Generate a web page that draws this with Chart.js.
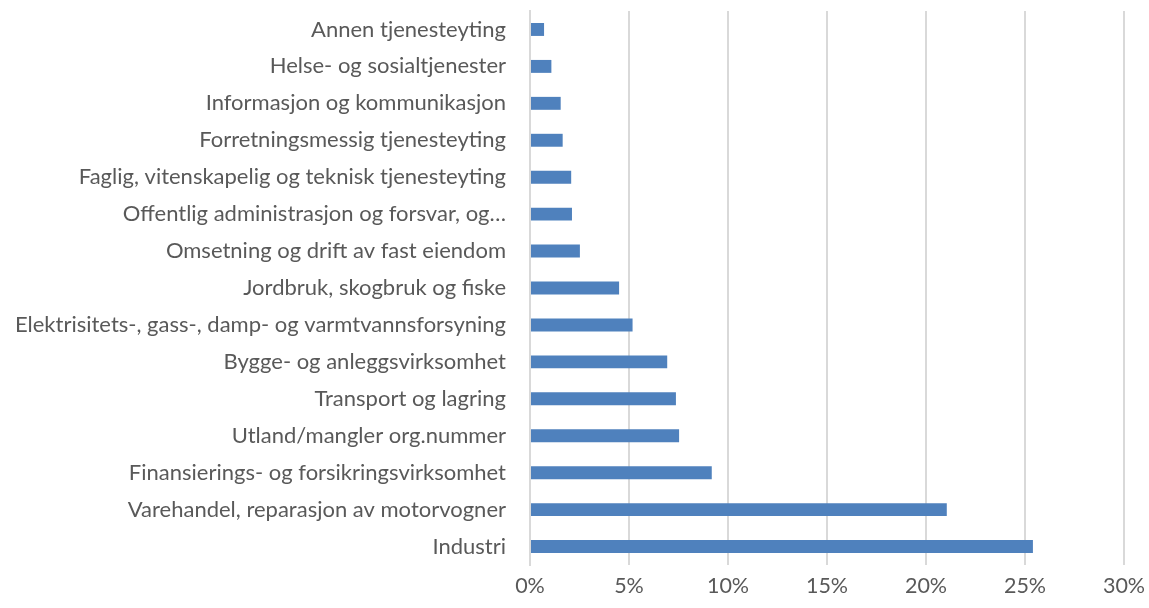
<!DOCTYPE html>
<html>
<head>
<meta charset="utf-8">
<script src="https://cdn.jsdelivr.net/npm/chart.js@4"></script>
<style>
  html, body { margin: 0; padding: 0; background: #fff; }
  #wrap { width: 1149px; height: 608px; }
</style>
</head>
<body>
<div id="wrap"><canvas id="chart"></canvas></div>
<script>
// Næringer, fra øverst til nederst
const naeringer = [
  "Annen tjenesteyting",
  "Helse- og sosialtjenester",
  "Informasjon og kommunikasjon",
  "Forretningsmessig tjenesteyting",
  "Faglig, vitenskapelig og teknisk tjenesteyting",
  "Offentlig administrasjon og forsvar, og…",
  "Omsetning og drift av fast eiendom",
  "Jordbruk, skogbruk og fiske",
  "Elektrisitets-, gass-, damp- og varmtvannsforsyning",
  "Bygge- og anleggsvirksomhet",
  "Transport og lagring",
  "Utland/mangler org.nummer",
  "Finansierings- og forsikringsvirksomhet",
  "Varehandel, reparasjon av motorvogner",
  "Industri"
];

// Andel i prosent
const andel = [0.71, 1.08, 1.55, 1.65, 2.08, 2.12, 2.52, 4.5, 5.18, 6.93, 7.37, 7.53, 9.18, 21.05, 25.4];

const xTicks = [0, 5, 10, 15, 20, 25, 30];

const font = "Lato, 'Open Sans', sans-serif";
const grey = '#595959';

new Chart(document.getElementById('chart').getContext('2d'), {
  type: 'bar',
  data: {
    labels: naeringer,
    datasets: [{
      data: andel,
      backgroundColor: '#4f81bd',
      borderWidth: 0,
      barPercentage: 0.35,
      categoryPercentage: 1
    }]
  },
  options: {
    indexAxis: 'y',
    responsive: true,
    maintainAspectRatio: false,
    animation: false,
    layout: { padding: { top: 11, right: 25, left: 0, bottom: 0 } },
    plugins: {
      legend: { display: false },
      tooltip: { enabled: false }
    },
    scales: {
      x: {
        min: 0,
        max: 30,
        afterBuildTicks: axis => { axis.ticks = xTicks.map(v => ({ value: v })); },
        afterFit: axis => {
          axis.height = 43;
          axis.paddingLeft = 0;
          axis.paddingRight = 0;
        },
        grid: { color: '#d9d9d9', lineWidth: 2, drawTicks: false },
        border: { display: false },
        ticks: {
          color: grey,
          font: { family: font, size: 21.5 },
          padding: 8,
          callback: v => v + '%'
        }
      },
      y: {
        afterFit: axis => {
          axis.width = 530;
          axis.paddingTop = 0;
          axis.paddingBottom = 0;
        },
        grid: { display: false },
        border: { color: '#d9d9d9', width: 2 },
        ticks: {
          color: grey,
          font: { family: font, size: 22 },
          padding: 16,
          autoSkip: false
        }
      }
    }
  }
});
</script>
</body>
</html>
